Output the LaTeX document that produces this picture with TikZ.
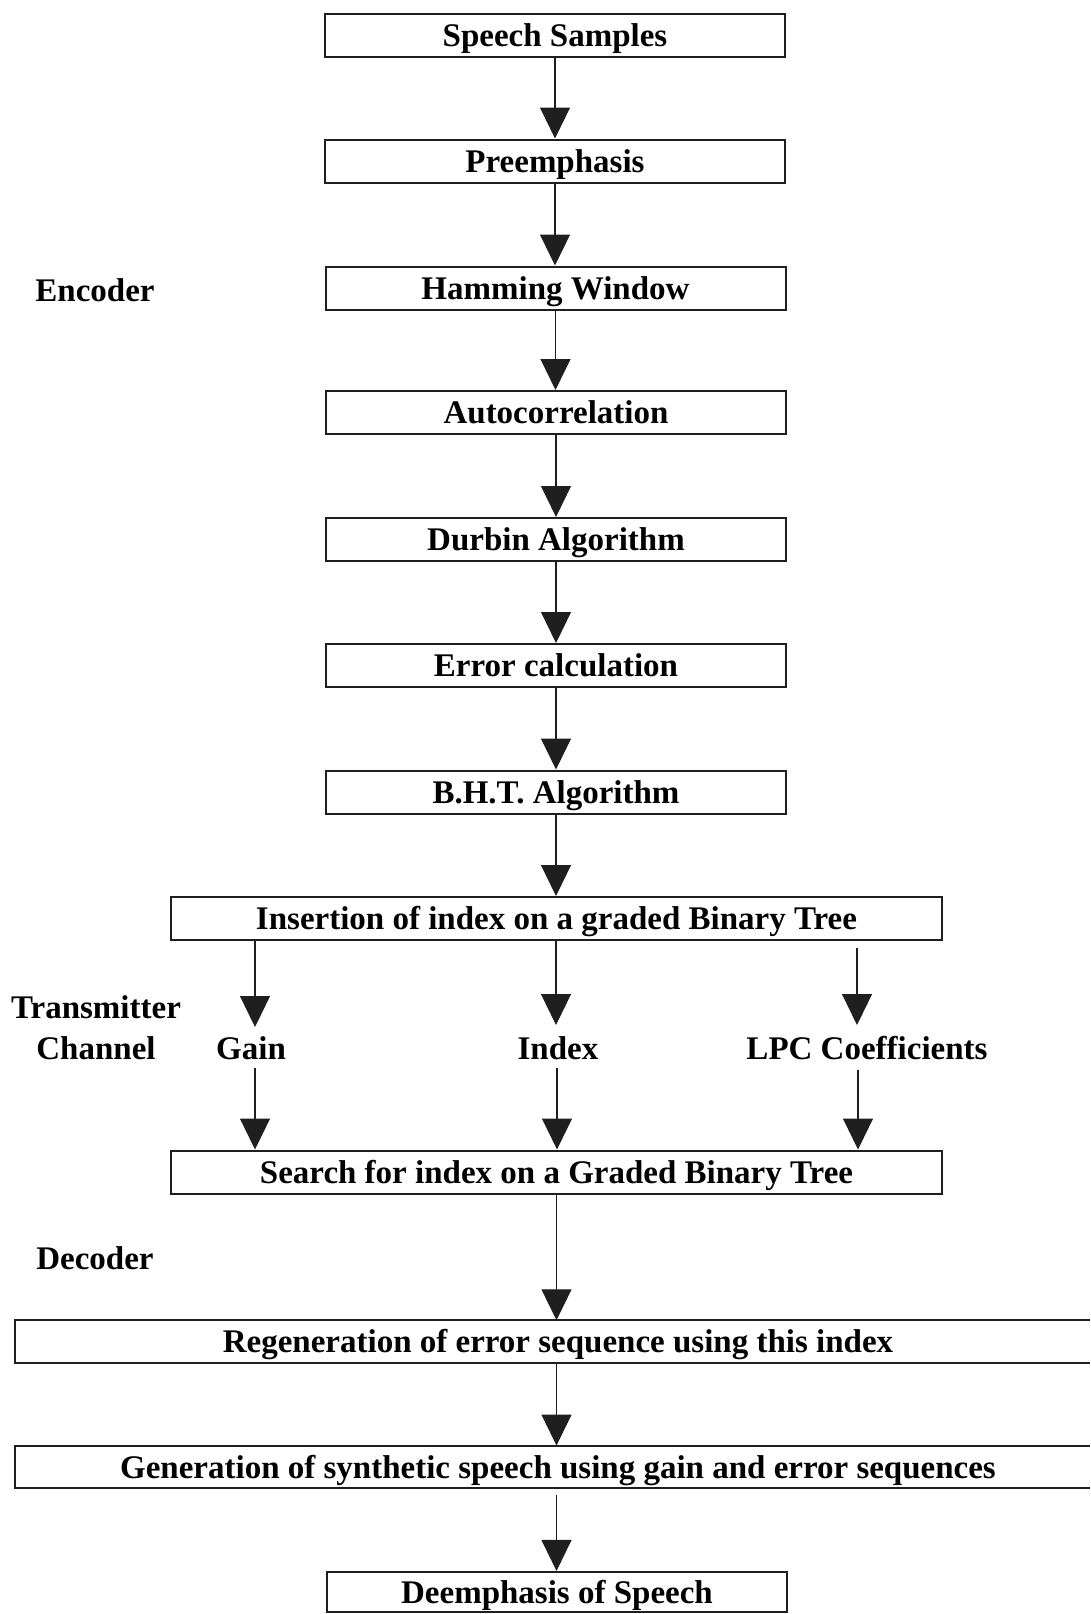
\documentclass[tikz,border=0pt]{standalone}
\usepackage{fontspec}
\setmainfont{Liberation Serif}
\usetikzlibrary{arrows.meta}
\definecolor{ink}{gray}{0.12}
\newcommand\flowfont{\fontsize{33}{40}\selectfont\bfseries}
\begin{document}
\begin{tikzpicture}[x=1pt,y=-1pt,
  txtbox/.style={inner sep=0pt,font=\flowfont,text height=22pt,text depth=0pt},
  stage/.style={txtbox,draw=ink,line width=2pt,minimum width=460pt,minimum height=43pt},
  widestage/.style={stage,minimum width=771pt},
  openstage/.style={txtbox,minimum width=1086pt,minimum height=42.5pt},
  lbl/.style={txtbox},
  flow/.style={draw=ink,line width=1.1pt,-{Triangle[width=30pt,length=31pt]}}]
\useasboundingbox (0,0) rectangle (1090,1614);

% encoder chain
\node[stage] (s1) at (555,35)     {Speech Samples};
\node[stage] (s2) at (555,161)    {Preemphasis};
\node[stage] (s3) at (555.5,288)  {Hamming Window};
\node[stage] (s4) at (556,412.5)  {Autocorrelation};
\node[stage] (s5) at (556,539.5)  {Durbin Algorithm};
\node[stage] (s6) at (556,665.5)  {Error calculation};
\node[stage] (s7) at (556,792)    {B.H.T. Algorithm};
\node[widestage] (ins) at (556.5,918.5) {Insertion of index on a graded Binary Tree};

% transmitted parameters
\node[lbl] (gain) at (251,1048) {Gain};
\node[lbl] (idx)  at (558,1048) {Index};
\node[lbl] (lpc)  at (867,1048) {LPC Coefficients};

% decoder chain
\node[widestage] (srch) at (556.5,1172) {Search for index on a Graded Binary Tree};
\node[openstage] (regen) at (558,1341.7) {Regeneration of error sequence using this index};
\node[openstage] (gen)   at (558,1467)   {Generation of synthetic speech using gain and error sequences};
\node[stage,minimum height=40.5pt] (deem) at (557,1592.2) {Deemphasis of Speech};

% the two wide stages run off the right edge of the page
\draw[ink,line width=2pt] ([xshift=-11pt]regen.north east) -- (regen.north west) -- (regen.south west) -- ([xshift=-11pt]regen.south east);
\draw[ink,line width=2pt] ([xshift=-11pt]gen.north east) -- (gen.north west) -- (gen.south west) -- ([xshift=-11pt]gen.south east);

% side labels
\node[lbl] (enc)  at (95,290)   {Encoder};
\node[lbl] (tx)   at (96,1007)  {Transmitter};
\node[lbl] (chan) at (96,1048)  {Channel};
\node[lbl] (dec)  at (95,1258)  {Decoder};

% encoder arrows
\draw[flow] (s1.south) -- (s1.south |- s2.north);
\draw[flow] (s2.south) -- (s2.south |- s3.north);
\draw[flow] (s3.south) -- (s3.south |- s4.north);
\draw[flow] (s4.south) -- (s4.south |- s5.north);
\draw[flow] (s5.south) -- (s5.south |- s6.north);
\draw[flow] (s6.south) -- (s6.south |- s7.north);
\draw[flow] (s7.south) -- (s7.south |- ins.north);

% channel arrows
\coordinate (ga) at (255,1027);
\coordinate (gb) at (255,1068);
\coordinate (ia) at (556,1025);
\coordinate (ib) at (557,1068);
\coordinate (la) at (857,1025);
\coordinate (lb) at (858,1070);
\coordinate (ltop) at (857,948);
\draw[flow] (ins.south -| ga) -- (ga);
\draw[flow] (ins.south -| ia) -- (ia);
\draw[flow] (ltop) -- (la);
\draw[flow] (gb) -- (gb |- srch.north);
\draw[flow] (ib) -- (ib |- srch.north);
\draw[flow] (lb) -- (lb |- srch.north);

% decoder arrows
\coordinate (rb) at (srch.south |- regen.south);
\coordinate (gb2) at (srch.south |- gen.south);
\draw[flow] (srch.south) -- (srch.south |- regen.north);
\draw[flow] (rb) -- (rb |- gen.north);
\draw[flow] ([yshift=-7pt]gb2) -- (gb2 |- deem.north);
\end{tikzpicture}
\end{document}
